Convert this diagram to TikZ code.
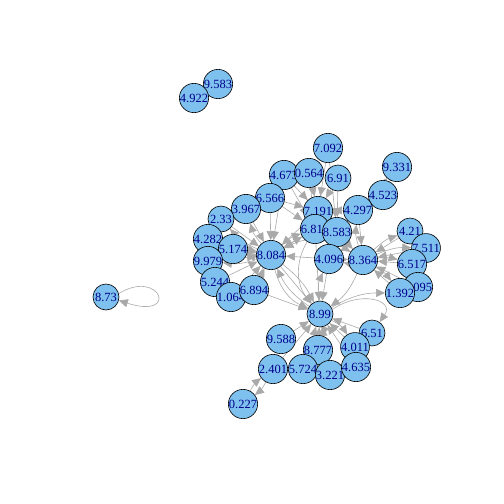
\documentclass[tikz,border=0pt]{standalone}
\usepackage{fontspec}
\setmainfont{Liberation Serif}
\usetikzlibrary{arrows.meta}
\pgfdeclarelayer{bg}
\pgfsetlayers{bg,main}
\definecolor{nodefill}{RGB}{126,192,238}
\definecolor{labelblue}{RGB}{0,0,139}
\definecolor{edgegray}{RGB}{169,169,169}
\tikzset{
  vtx/.style={circle,draw=black,line width=0.6pt,fill=nodefill,minimum size=26pt,inner sep=0pt,
    text=labelblue,font=\fontsize{12.5}{12.5}\selectfont},
  lnk/.style={draw=edgegray,line width=0.6pt,-{Triangle[length=9pt,width=8pt]},color=edgegray},
}
\begin{document}
\begin{tikzpicture}[x=1pt,y=-1pt]
\useasboundingbox (0,0) rectangle (504,504);
\node[vtx] (n9583) at (218,84) {9.583};
\node[vtx] (n4922) at (194,98) {4.922};
\node[vtx] (n873) at (106,297) {8.73};
\node[vtx] (n7092) at (328,148) {7.092};
\node[vtx] (n4673) at (284,175) {4.673};
\node[vtx] (n0564) at (309,173) {0.564};
\node[vtx] (n691) at (338,178) {6.91};
\node[vtx] (n9331) at (397,167) {9.331};
\node[vtx] (n6566) at (270,198) {6.566};
\node[vtx] (n3967) at (246,209) {3.967};
\node[vtx] (n4523) at (383,195) {4.523};
\node[vtx] (n7191) at (318,211) {7.191};
\node[vtx] (n4297) at (358,210) {4.297};
\node[vtx] (n233) at (221,219) {2.33};
\node[vtx] (n4282) at (208,239) {4.282};
\node[vtx] (n5174) at (233,249) {5.174};
\node[vtx] (n6812) at (315,229) {6.812};
\node[vtx] (n8583) at (337,232) {8.583};
\node[vtx] (n8084) at (271,255) {8.084};
\node[vtx] (n4096) at (329,259) {4.096};
\node[vtx] (n8364) at (363,260) {8.364};
\node[vtx] (n421) at (410,231) {4.21};
\node[vtx] (n7511) at (426,248) {7.511};
\node[vtx] (n6517) at (412,264) {6.517};
\node[vtx] (n6095) at (418,287) {6.095};
\node[vtx] (n1392) at (400,293) {1.392};
\node[vtx] (n9979) at (208,261) {9.979};
\node[vtx] (n5244) at (215,282) {5.244};
\node[vtx] (n1064) at (231,297) {1.064};
\node[vtx] (n6894) at (254,290) {6.894};
\node[vtx] (n899) at (320,314) {8.99};
\node[vtx] (n651) at (372,333) {6.51};
\node[vtx] (n9588) at (281,339) {9.588};
\node[vtx] (n4011) at (355,347) {4.011};
\node[vtx] (n8777) at (318,350) {8.777};
\node[vtx] (n2401) at (273,369) {2.401};
\node[vtx] (n5724) at (303,369) {5.724};
\node[vtx] (n3221) at (330,375) {3.221};
\node[vtx] (n4635) at (356,367) {4.635};
\node[vtx] (n0227) at (243,404) {0.227};
\begin{pgfonlayer}{bg}
% into 8.084
\foreach \s in {n233,n4282,n5174,n9979,n5244,n1064,n6894,n3967,n6566,n4673,n7191,n6812,n4096}
  \draw[lnk] (\s) -- (n8084);
\foreach \t in {n5174,n9979,n233,n6812,n3967,n899,n1064}
  \draw[lnk] (n8084) to[bend left=12] (\t);
% into 7.191
\foreach \s in {n7092,n0564,n691,n4673,n6566,n4297,n8583}
  \draw[lnk] (\s) -- (n7191);
\foreach \s in {n0564,n4673,n6566,n8084}
  \draw[lnk] (\s) -- (n6812);
\draw[lnk] (n7191) to[bend left=20] (n6812);
\foreach \s in {n691,n7092,n7191,n4297}
  \draw[lnk] (\s) -- (n8583);
% into 8.364
\foreach \s in {n421,n7511,n6517,n6095,n1392,n4297,n8583,n4096,n6812}
  \draw[lnk] (\s) -- (n8364);
\foreach \t in {n421,n6517,n1392,n4096,n4297,n7511}
  \draw[lnk] (n8364) to[bend left=12] (\t);
\draw[lnk] (n4523) -- (n4297);
\draw[lnk] (n9331) -- (n4523);
\draw[lnk] (n4523) to[bend left=15] (n9331);
% into 8.99
\foreach \s in {n9588,n8777,n5724,n3221,n4635,n4011,n651,n4096,n8084,n6812,n6894,n2401}
  \draw[lnk] (\s) -- (n899);
\draw[lnk] (n8364) to[bend left=15] (n899);
\draw[lnk] (n899) to[bend left=15] (n8084);
\draw[lnk] (n899) to[bend left=15] (n4096);
\draw[lnk] (n899) to[bend left=15] (n1392);
\draw[lnk] (n899) to[bend left=15] (n4011);
\draw[lnk] (n899) to[bend left=15] (n8777);
\draw[lnk] (n899.20) .. controls (360,290) and (395,300) .. (n651);
\draw[lnk] (n8084) to[bend right=25] (n899);
\draw[lnk] (n8364) to[bend right=30] (n8084);
\draw[lnk] (n6812) to[bend right=35] (n899);
% 2.401 and 0.227
\draw[lnk] (n2401) to[bend left=12] (n0227);
\draw[lnk] (n0227) to[bend left=12] (n2401);
\draw[lnk] (n2401) -- (n9588);
% loop
\draw[lnk] (n873.15) .. controls (160,268) and (180,320) .. (n873.-15);
\end{pgfonlayer}
\end{tikzpicture}
\end{document}
